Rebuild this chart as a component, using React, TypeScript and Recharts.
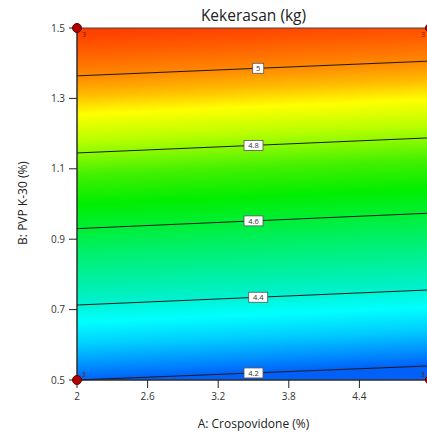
import React from 'react';
import { ComposedChart, XAxis, YAxis, Line, Scatter, ReferenceArea } from 'recharts';

const chartTitle = 'Kekerasan (kg)';
const xAxisTitle = 'A: Crospovidone (%)';
const yAxisTitle = 'B: PVP K-30 (%)';

// the 5 tick sits on the cropped right edge, so it is not labelled
const xTicks = [2, 2.6, 3.2, 3.8, 4.4];
const yTicks = [0.5, 0.7, 0.9, 1.1, 1.3, 1.5];

// contour lines: B value where each level meets A=2 and A=5
const contourLevels = ['4.2', '4.4', '4.6', '4.8', '5'];
const contourStartB = [0.5, 0.713, 0.93, 1.145, 1.364];
const contourEndB = [0.54, 0.756, 0.974, 1.188, 1.406];
const contourLabelA = [3.5, 3.54, 3.5, 3.5, 3.54];

// design points and replicate counts
const designA = [2, 2, 5, 5];
const designB = [0.5, 1.5, 0.5, 1.5];
const designRuns = [3, 3, 3, 3];

const xMin = 2, xMax = 5, yMin = 0.5, yMax = 1.5;
const font = '"Open Sans", "Noto Sans", sans-serif';

const contours = contourLevels.map((level, i) => ({
  level,
  points: [
    { a: xMin, b: contourStartB[i] },
    { a: xMax, b: contourEndB[i] },
  ],
}));

const contourLabels = contourLevels.map((level, i) => {
  const t = (contourLabelA[i] - xMin) / (xMax - xMin);
  return { a: contourLabelA[i], b: contourStartB[i] + (contourEndB[i] - contourStartB[i]) * t, level };
});

const designPoints = designA.map((a, i) => ({ a, b: designB[i], runs: designRuns[i] }));

const ContourLabel = (props: any) => {
  const { cx, cy, payload } = props;
  const w = payload.level.length * 4 + 7;
  return (
    <g>
      <rect x={cx - w / 2} y={cy - 5} width={w} height={10} fill="#fff" stroke="#555" strokeWidth={0.8} />
      <text x={cx} y={cy + 2.7} textAnchor="middle" fontSize={7.5} fill="#333" fontFamily={font}>
        {payload.level}
      </text>
    </g>
  );
};

const DesignPoint = (props: any) => {
  const { cx, cy, payload } = props;
  const dx = payload.a === xMin ? 5 : -9;
  const dy = payload.b === yMax ? 9 : -3;
  return (
    <g>
      <circle cx={cx} cy={cy} r={4.5} fill="#b00000" stroke="#5a0000" strokeWidth={1} />
      <text x={cx + dx} y={cy + dy} fontSize={7} fill="#7a1a00" fontFamily={font}>
        {payload.runs}
      </text>
    </g>
  );
};

export default function App() {
  return (
    <div style={{ position: 'fixed', left: 0, top: 0, width: 427, height: 432, overflow: 'hidden', background: '#fff' }}>
      <div
        style={{
          position: 'absolute', left: 77, top: 4, width: 353, textAlign: 'center',
          fontFamily: font, fontSize: 15.5, color: '#222',
        }}
      >
        {chartTitle}
      </div>
      <ComposedChart width={440} height={432} margin={{ top: 28, right: 10, bottom: 0, left: 0 }}>
        <defs>
          <linearGradient id="kekGrad" x1="0" y1="0" x2="0.0425" y2="1">
            <stop offset="0" stopColor="#ff3800" />
            <stop offset="0.0625" stopColor="#ff5a00" />
            <stop offset="0.136" stopColor="#ff8800" />
            <stop offset="0.19" stopColor="#ffbb00" />
            <stop offset="0.245" stopColor="#ffff00" />
            <stop offset="0.32" stopColor="#b8ff00" />
            <stop offset="0.42" stopColor="#40f000" />
            <stop offset="0.5" stopColor="#00ee00" />
            <stop offset="0.645" stopColor="#00f070" />
            <stop offset="0.77" stopColor="#00f0c8" />
            <stop offset="0.835" stopColor="#00ffff" />
            <stop offset="0.9" stopColor="#00ccff" />
            <stop offset="0.957" stopColor="#0090ff" />
            <stop offset="1" stopColor="#0060f8" />
          </linearGradient>
        </defs>
        <XAxis
          type="number"
          dataKey="a"
          domain={[xMin, xMax]}
          ticks={xTicks}
          interval={0}
          height={52}
          tickSize={8}
          tickMargin={5}
          axisLine={{ stroke: '#222' }}
          tickLine={{ stroke: '#222' }}
          tick={{ fontSize: 10, fill: '#333', fontFamily: font }}
          label={{
            content: (p: any) => (
              <text
                x={p.viewBox.x + p.viewBox.width / 2}
                y={p.viewBox.y + 48}
                textAnchor="middle"
                fontSize={12}
                fill="#222"
                fontFamily={font}
              >
                {xAxisTitle}
              </text>
            ),
          }}
        />
        <YAxis
          type="number"
          dataKey="b"
          domain={[yMin, yMax]}
          ticks={yTicks}
          interval={0}
          width={77}
          tickSize={8}
          tickMargin={4}
          axisLine={{ stroke: '#222' }}
          tickLine={{ stroke: '#222' }}
          tick={{ fontSize: 10, fill: '#333', fontFamily: font }}
          label={{
            content: (p: any) => {
              const cx = p.viewBox.x + 22;
              const cy = p.viewBox.y + p.viewBox.height / 2 - 1;
              return (
                <text
                  x={cx}
                  y={cy}
                  transform={`rotate(-90 ${cx} ${cy})`}
                  textAnchor="middle"
                  dominantBaseline="central"
                  fontSize={12}
                  fill="#222"
                  fontFamily={font}
                >
                  {yAxisTitle}
                </text>
              );
            },
          }}
        />
        <ReferenceArea x1={xMin} x2={xMax} y1={yMin} y2={yMax} fill="url(#kekGrad)" fillOpacity={1} stroke="#444" strokeWidth={1} />
        {contours.map((c) => (
          <Line
            key={c.level}
            data={c.points}
            dataKey="b"
            type="linear"
            stroke="#1a1a1a"
            strokeWidth={1}
            dot={false}
            activeDot={false}
            isAnimationActive={false}
          />
        ))}
        <Scatter data={contourLabels} dataKey="b" shape={ContourLabel} isAnimationActive={false} />
        <Scatter data={designPoints} dataKey="b" shape={DesignPoint} isAnimationActive={false} />
      </ComposedChart>
    </div>
  );
}
